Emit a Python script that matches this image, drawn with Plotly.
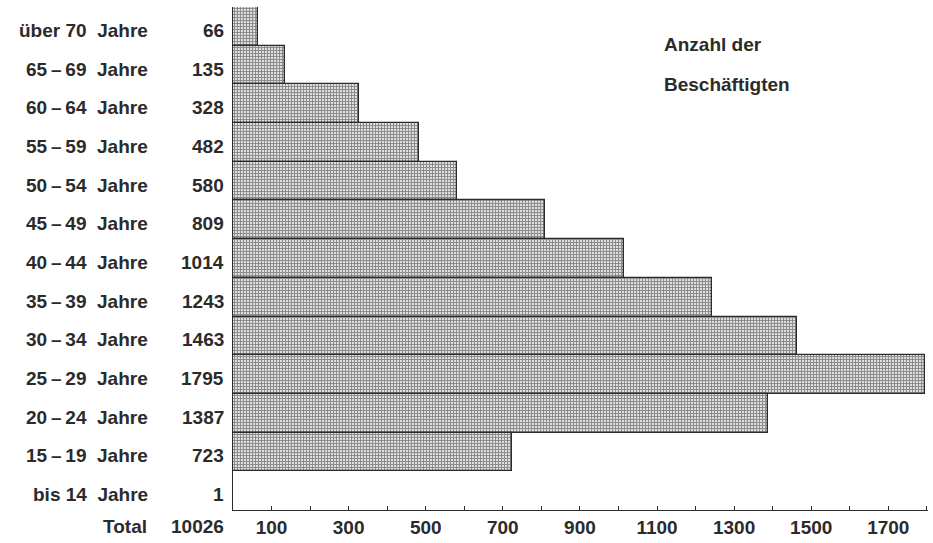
import plotly.graph_objects as go

# Data
AGE_GROUPS = [
    "über 70 Jahre", "65–69 Jahre", "60–64 Jahre", "55–59 Jahre",
    "50–54 Jahre", "45–49 Jahre", "40–44 Jahre", "35–39 Jahre",
    "30–34 Jahre", "25–29 Jahre", "20–24 Jahre", "15–19 Jahre",
    "bis 14 Jahre",
]
EMPLOYEES = [66, 135, 328, 482, 580, 809, 1014, 1243, 1463, 1795, 1387, 723, 1]
TOTAL = 10026
TICK_LABELS = [100, 300, 500, 700, 900, 1100, 1300, 1500, 1700]

INK = "#2b2b2b"
FONT = "Liberation Sans"
FS = 19

W, H = 933, 543
L, R, T, B = 233, 5, 7, 31
plot_w = W - L - R
plot_h = H - T - B


def px_to_paper_x(px):
    return (px - L) / plot_w


def px_to_paper_y(py):
    return 1 - (py - T) / plot_h


def display(label):
    # a little air round the dash and before "Jahre", as in the print
    return label.replace("–", "\u2009–\u2009").replace(" Jahre", "\u00a0\u00a0Jahre")


fig = go.Figure()

fig.add_trace(go.Bar(
    y=AGE_GROUPS,
    x=EMPLOYEES,
    orientation="h",
    marker=dict(
        color="#bdbdbd",
        line=dict(color=INK, width=1.3),
        pattern=dict(shape="+", size=3, solidity=0.55,
                     fgcolor="#3a3a3a", bgcolor="#dedede"),
    ),
    hoverinfo="x+y",
))

label_font = dict(size=FS, color=INK, family=FONT, weight="bold")

annotations = []
for label, val in zip(AGE_GROUPS, EMPLOYEES):
    annotations.append(dict(
        xref="paper", yref="y", x=px_to_paper_x(150), y=label, yshift=-4,
        text=display(label), showarrow=False, xanchor="right", yanchor="middle",
        font=label_font,
    ))
    annotations.append(dict(
        xref="paper", yref="y", x=px_to_paper_x(226), y=label, yshift=-4,
        text=str(val), showarrow=False, xanchor="right", yanchor="middle",
        font=label_font,
    ))

# Total row, on the line of the tick labels
annotations.append(dict(
    xref="paper", yref="paper", x=px_to_paper_x(149), y=px_to_paper_y(529),
    text="Total", showarrow=False, xanchor="right", yanchor="middle",
    font=label_font,
))
annotations.append(dict(
    xref="paper", yref="paper", x=px_to_paper_x(226), y=px_to_paper_y(529),
    text=str(TOTAL), showarrow=False, xanchor="right", yanchor="middle",
    font=label_font,
))

for text, ypx in [("Anzahl der", 45), ("Beschäftigten", 85)]:
    annotations.append(dict(
        xref="paper", yref="paper", x=px_to_paper_x(662), y=px_to_paper_y(ypx),
        text=text, showarrow=False, xanchor="left", yanchor="middle",
        font=label_font,
    ))

fig.update_layout(
    width=W, height=H,
    margin=dict(l=L, r=R, t=T, b=B),
    plot_bgcolor="white",
    paper_bgcolor="white",
    showlegend=False,
    bargap=0,
    font=dict(family=FONT, color=INK),
    xaxis=dict(
        range=[0, 1803],
        tickvals=TICK_LABELS,
        ticktext=[str(v) for v in TICK_LABELS],
        ticks="inside", ticklen=4, tickcolor=INK,
        minor=dict(dtick=100, tick0=0, ticks="inside", ticklen=4, tickcolor=INK),
        showline=True, linecolor=INK, linewidth=1.2,
        showgrid=False, zeroline=False,
        tickfont=label_font,
    ),
    yaxis=dict(
        categoryorder="array", categoryarray=AGE_GROUPS,
        autorange="reversed",
        showticklabels=False, ticks="",
        showline=True, linecolor=INK, linewidth=1.2,
        showgrid=False, zeroline=False,
    ),
    annotations=annotations,
)

fig.write_html(
    "out.html",
    config={"displayModeBar": False},
    post_script="document.body.style.margin='0';",
)
